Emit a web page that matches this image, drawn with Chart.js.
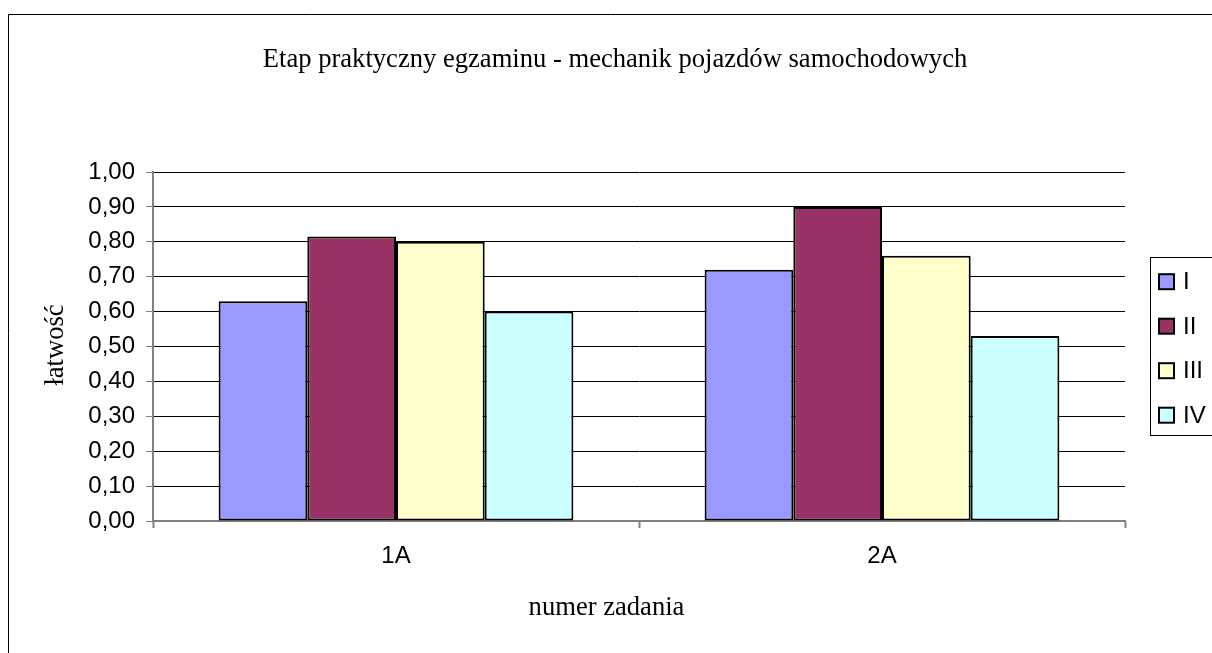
<!DOCTYPE html>
<html>
<head>
<meta charset="utf-8">
<script src="https://cdn.jsdelivr.net/npm/chart.js@4.4.0/dist/chart.umd.min.js"></script>
<style>
html, body { margin: 0; padding: 0; background: #fff; }
canvas { display: block; }
</style>
</head>
<body>
<canvas id="myChart" width="1212" height="653"></canvas>
<script>
var categories = ['1A', '2A'];
var seriesNames = ['I', 'II', 'III', 'IV'];
var valuesI = [0.63, 0.72];
var valuesII = [0.815, 0.90];
var valuesIII = [0.80, 0.76];
var valuesIV = [0.60, 0.53];
var seriesColors = ['#9999FF', '#993366', '#FFFFCC', '#CCFFFF'];

var chartTitle = 'Etap praktyczny egzaminu - mechanik pojazdów samochodowych';
var xTitle = 'numer zadania';
var yTitle = 'łatwość';

var serif = '26.6px "Liberation Serif", "Times New Roman", serif';
var sans = '"Liberation Sans", Arial, sans-serif';

// title, axis titles, legend box and the outer frame
var decor = {
  id: 'decor',
  beforeDraw: function(chart) {
    var ctx = chart.ctx;
    ctx.save();
    ctx.fillStyle = '#fff';
    ctx.fillRect(0, 0, chart.width, chart.height);
    ctx.restore();
  },
  afterDraw: function(chart) {
    var ctx = chart.ctx;
    ctx.save();
    ctx.strokeStyle = '#000';
    ctx.lineWidth = 1;
    ctx.beginPath();
    ctx.moveTo(8.5, chart.height);
    ctx.lineTo(8.5, 14.5);
    ctx.lineTo(chart.width, 14.5);
    ctx.stroke();

    ctx.fillStyle = '#000';
    ctx.font = serif;
    ctx.textAlign = 'center';
    ctx.textBaseline = 'alphabetic';
    ctx.fillText(chartTitle, 615, 67);
    ctx.fillText(xTitle, 606.5, 615);
    ctx.save();
    ctx.translate(63, 345);
    ctx.rotate(-Math.PI / 2);
    ctx.fillText(yTitle, 0, 0);
    ctx.restore();

    // legend
    ctx.strokeRect(1150.5, 257.5, 100, 178);
    ctx.font = '24px ' + sans;
    ctx.textAlign = 'left';
    ctx.textBaseline = 'middle';
    chart.data.datasets.forEach(function(ds, i) {
      var y = 281.7 + i * 44.5;
      ctx.fillStyle = ds.backgroundColor;
      ctx.fillRect(1159, y - 7.5, 15, 15);
      ctx.lineWidth = 2;
      ctx.strokeRect(1159, y - 7.5, 15, 15);
      ctx.fillStyle = '#000';
      ctx.fillText(ds.label, 1183, y + 1);
    });
    ctx.restore();
  }
};

var allValues = [valuesI, valuesII, valuesIII, valuesIV];

const ctx = document.getElementById('myChart').getContext('2d');
const myChart = new Chart(ctx, {
  type: 'bar',
  data: {
    labels: categories,
    datasets: seriesNames.map(function(name, i) {
      return {
        label: name,
        data: allValues[i],
        backgroundColor: seriesColors[i],
        borderColor: '#000',
        borderWidth: 2,
        borderSkipped: false,
        categoryPercentage: 0.73,
        barPercentage: 1.0
      };
    })
  },
  options: {
    responsive: false,
    animation: false,
    devicePixelRatio: 1,
    layout: { padding: { top: 172, left: 0, right: 87, bottom: 0 } },
    plugins: {
      legend: { display: false },
      title: { display: false },
      tooltip: { enabled: false }
    },
    scales: {
      x: {
        offset: true,
        grid: {
          display: true,
          drawOnChartArea: false,
          drawTicks: true,
          tickLength: 7,
          tickColor: '#808080',
          tickWidth: 2,
          offset: true
        },
        border: { display: true, color: '#808080', width: 2 },
        ticks: {
          color: '#000',
          padding: 14,
          font: { family: sans, size: 24 }
        },
        afterFit: function(scale) { scale.height = 132; }
      },
      y: {
        min: 0,
        max: 1,
        grid: {
          color: function(c) { return c.tick && c.tick.value === 0 ? 'rgba(0,0,0,0)' : '#000'; },
          lineWidth: 1,
          drawTicks: true,
          tickLength: 7,
          tickColor: '#808080'
        },
        border: { display: true, color: '#808080', width: 2 },
        ticks: {
          stepSize: 0.1,
          color: '#000',
          padding: 11,
          font: { family: sans, size: 24 },
          callback: function(v) { return v.toFixed(2).replace('.', ','); }
        },
        afterFit: function(scale) { scale.width = 153; }
      }
    }
  },
  plugins: [decor]
});
</script>
</body>
</html>
